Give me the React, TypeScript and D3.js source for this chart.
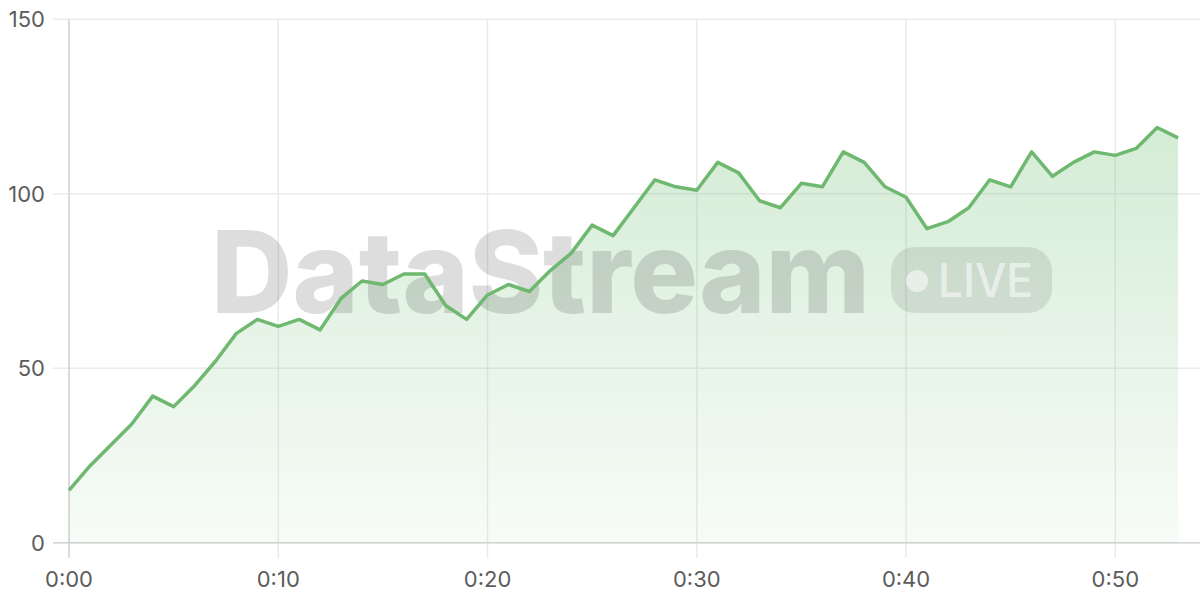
import React from "react";
import * as d3 from "d3";

const times: number[] = Array.from({ length: 54 }, (_, i) => i);
const values: number[] = [
  15, 22, 28, 34, 42, 39, 45, 52, 60, 64,
  62, 64, 61, 70, 75, 74, 77, 77, 68, 64,
  71, 74, 72, 78, 83, 91, 88, 96, 104, 102,
  101, 109, 106, 98, 96, 103, 102, 112, 109, 102,
  99, 90, 92, 96, 104, 102, 112, 105, 109, 112,
  111, 113, 119, 116,
];
const xTicks: number[] = [0, 10, 20, 30, 40, 50];
const yTicks: number[] = [0, 50, 100, 150];
const watermark = "DataStream";
const badge = "LIVE";

const W = 1200;
const H = 600;
const M = { left: 69, right: 1, top: 19.3, bottom: 57.3 };

const fmt = (d: number) => `${Math.floor(d / 60)}:${String(d % 60).padStart(2, "0")}`;

export default function App() {
  if (typeof document !== "undefined") document.body.style.margin = "0";
  const x = d3.scaleLinear().domain([0, 54]).range([M.left, W - M.right]);
  const y = d3.scaleLinear().domain([0, 150]).range([H - M.bottom, M.top]);
  const data = times.map((t, i) => ({ t, v: values[i] }));
  const line = d3.line<{ t: number; v: number }>().x((d) => x(d.t)).y((d) => y(d.v));
  const area = d3
    .area<{ t: number; v: number }>()
    .x((d) => x(d.t))
    .y0(y(0))
    .y1((d) => y(d.v));
  const font = "Inter, 'Noto Sans', sans-serif";
  return (
    <svg width={W} height={H} style={{ display: "block" }} fontFamily={font}>
      <defs>
        <linearGradient id="ag" x1="0" y1="0" x2="0" y2="1">
          <stop offset="0%" stopColor="#66bb6a" stopOpacity={0.28} />
          <stop offset="100%" stopColor="#66bb6a" stopOpacity={0.05} />
        </linearGradient>
      </defs>
      {yTicks.map((t) => (
        <g key={"y" + t}>
          <line x1={M.left - 16} x2={W} y1={y(t)} y2={y(t)} stroke="#ebebeb" strokeWidth={1.5} />
          <text x={45} y={y(t)} dy="0.36em" textAnchor="end" fontSize={22} fill="#5c5c5c">
            {t}
          </text>
        </g>
      ))}
      {xTicks.map((t) => (
        <g key={"x" + t}>
          <line x1={x(t)} x2={x(t)} y1={M.top} y2={y(0) + 15} stroke="#ebebeb" strokeWidth={1.5} />
          <text x={x(t)} y={587} textAnchor="middle" fontSize={22} fill="#5c5c5c">
            {fmt(t)}
          </text>
        </g>
      ))}
      <line x1={M.left} x2={M.left} y1={M.top} y2={y(0) + 15} stroke="#d4d4d4" strokeWidth={1.5} />
      <line x1={M.left - 16} x2={W} y1={y(0)} y2={y(0)} stroke="#d4d4d4" strokeWidth={1.5} />
      <path d={area(data) || ""} fill="url(#ag)" />
      <g>
        <text
          x={211}
          y={313}
          fontSize={114}
          fontWeight={800}
          fill="rgba(0,0,0,0.135)"
          textLength={659}
          lengthAdjust="spacingAndGlyphs"
        >
          {watermark}
        </text>
        <rect x={891} y={247} width={161} height={66} rx={24} fill="rgba(0,0,0,0.09)" />
        <circle cx={917} cy={281} r={11} fill="rgba(255,255,255,0.55)" />
        <text
          x={938}
          y={297}
          fontSize={47}
          fontWeight={500}
          fill="rgba(255,255,255,0.55)"
          textLength={95}
          lengthAdjust="spacingAndGlyphs"
        >
          {badge}
        </text>
      </g>
      <path d={line(data) || ""} fill="none" stroke="#6fb870" strokeWidth={3.5} strokeLinejoin="round" />
    </svg>
  );
}
